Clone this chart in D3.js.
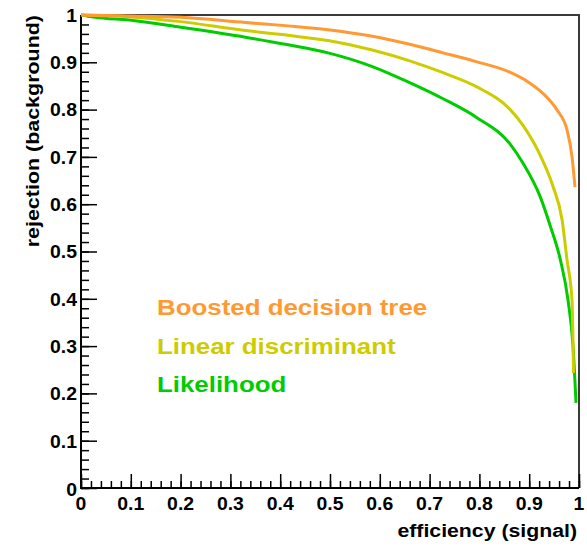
<!DOCTYPE html>
<html>
<head>
<meta charset="utf-8">
<script src="https://cdn.jsdelivr.net/npm/d3@7"></script>
<style>
    body { margin: 0; background: #fff; }
    text { font-family: "Liberation Sans", Arial, sans-serif; font-weight: bold; }
</style>
</head>
<body>
<div id="plot1"></div>
<script>
// signal efficiency / background rejection
var bdtEff = [0, 0.1, 0.2, 0.33, 0.416, 0.496, 0.585, 0.66, 0.727, 0.795, 0.861, 0.9, 0.928, 0.956, 0.976, 0.986, 0.992];
var bdtRej = [1.0, 0.998, 0.995, 0.984, 0.977, 0.969, 0.955, 0.938, 0.920, 0.901, 0.879, 0.857, 0.834, 0.799, 0.757, 0.70, 0.636];

var ldEff = [0, 0.1, 0.2, 0.33, 0.416, 0.496, 0.585, 0.66, 0.727, 0.795, 0.861, 0.888, 0.928, 0.948, 0.966, 0.976, 0.986, 0.989];
var ldRej = [1.0, 0.996, 0.986, 0.967, 0.957, 0.946, 0.926, 0.903, 0.878, 0.848, 0.801, 0.766, 0.690, 0.637, 0.567, 0.482, 0.397, 0.243];

var likEff = [0, 0.024, 0.108, 0.2, 0.33, 0.416, 0.496, 0.585, 0.66, 0.727, 0.795, 0.861, 0.888, 0.922, 0.942, 0.962, 0.978, 0.988, 0.994];
var likRej = [1.0, 0.996, 0.988, 0.974, 0.953, 0.937, 0.920, 0.891, 0.857, 0.823, 0.783, 0.728, 0.686, 0.616, 0.555, 0.485, 0.397, 0.30, 0.18];

var seriesNames = ["Boosted decision tree", "Linear discriminant", "Likelihood"];
var seriesColors = ["#ff9933", "#cccc00", "#00cc00"];
var tickValues = [0, 0.1, 0.2, 0.3, 0.4, 0.5, 0.6, 0.7, 0.8, 0.9, 1];

let plt1 = function(){
    const width = 587;
    const height = 549;
    const margin = {top: 15, right: 8, bottom: 61, left: 81};

    var svg = d3.select("#plot1").append("svg").attr("width", width).attr("height", height);
    var xScale = d3.scaleLinear().domain([0, 1]).range([margin.left, width - margin.right]);
    var yScale = d3.scaleLinear().domain([0, 1]).range([height - margin.bottom, margin.top]);
    var fmt = d => d == 0 ? "0" : d == 1 ? "1" : d3.format(".1f")(d);

    // frame (top/right)
    svg.append("path")
        .attr("d", "M" + xScale(0) + "," + yScale(1) + "H" + xScale(1) + "V" + yScale(0))
        .attr("fill", "none").attr("stroke", "#3a3a3a").attr("stroke-width", 2);

    // axes with ROOT-like inward ticks
    var minor = d3.range(0, 1.0001, 0.02);
    var xAxisMinor = d3.axisBottom(xScale).tickValues(minor).tickSize(-7).tickFormat("");
    var xAxis = d3.axisBottom(xScale).tickValues(tickValues).tickSize(-14).tickFormat("");
    var yAxisMinor = d3.axisLeft(yScale).tickValues(minor).tickSize(-8).tickFormat("");
    var yAxis = d3.axisLeft(yScale).tickValues(tickValues).tickSize(-16).tickFormat("");
    [xAxisMinor, xAxis].forEach(a => {
        svg.append("g").attr("transform", "translate(0," + yScale(0) + ")").call(a)
            .call(g => g.selectAll("line,path").attr("stroke", "#000").attr("stroke-width", 1.5));
    });
    [yAxisMinor, yAxis].forEach(a => {
        svg.append("g").attr("transform", "translate(" + xScale(0) + ",0)").call(a)
            .call(g => g.selectAll("line,path").attr("stroke", "#000").attr("stroke-width", 1.5));
    });
    svg.selectAll(".domain").attr("d", null);
    svg.append("path")
        .attr("d", "M" + xScale(0) + "," + yScale(1) + "V" + yScale(0) + "H" + xScale(1))
        .attr("fill", "none").attr("stroke", "#000").attr("stroke-width", 2);

    // tick labels
    svg.append("g").selectAll("text").data(tickValues).enter().append("text")
        .attr("transform", d => "translate(" + xScale(d) + "," + (yScale(0) + 22) + ") scale(1.05,1)")
        .attr("text-anchor", "middle").attr("font-size", 18.5).attr("fill", "#000")
        .text(fmt);
    svg.append("g").selectAll("text").data(tickValues).enter().append("text")
        .attr("transform", d => "translate(" + (xScale(0) - 4) + "," + (yScale(d) + 6.8 + (d == 0 ? 1.5 : 0)) + ") scale(1.05,1)")
        .attr("text-anchor", "end").attr("font-size", 18.5).attr("fill", "#000")
        .text(fmt);

    // curves
    var line = d3.line().x(d => xScale(d[0])).y(d => yScale(d[1])).curve(d3.curveMonotoneX);
    var series = [
        {name: seriesNames[2], color: seriesColors[2], pts: d3.zip(likEff, likRej)},
        {name: seriesNames[1], color: seriesColors[1], pts: d3.zip(ldEff, ldRej)},
        {name: seriesNames[0], color: seriesColors[0], pts: d3.zip(bdtEff, bdtRej)}
    ];
    svg.append("g").selectAll("path").data(series).enter().append("path")
        .attr("d", d => line(d.pts))
        .attr("fill", "none")
        .attr("stroke", d => d.color)
        .attr("stroke-width", 3);

    // legend
    svg.append("g").selectAll("text").data(seriesNames).enter().append("text")
        .attr("transform", (d, i) => "translate(157," + (315 + i * 38.5) + ") scale(1.15,1)")
        .attr("font-size", 22.5)
        .attr("fill", (d, i) => seriesColors[i])
        .text(d => d);

    // axis titles
    svg.append("text")
        .attr("transform", "translate(" + (xScale(1) - 2) + ",537) scale(1.15,1)")
        .attr("text-anchor", "end").attr("font-size", 18.5).attr("fill", "#000")
        .text("efficiency (signal)");
    svg.append("text")
        .attr("transform", "translate(39," + yScale(1) + ") rotate(-90) scale(1.16,1)")
        .attr("text-anchor", "end").attr("font-size", 18.5).attr("fill", "#000")
        .text("rejection (background)");
}

plt1();
</script>
</body>
</html>
